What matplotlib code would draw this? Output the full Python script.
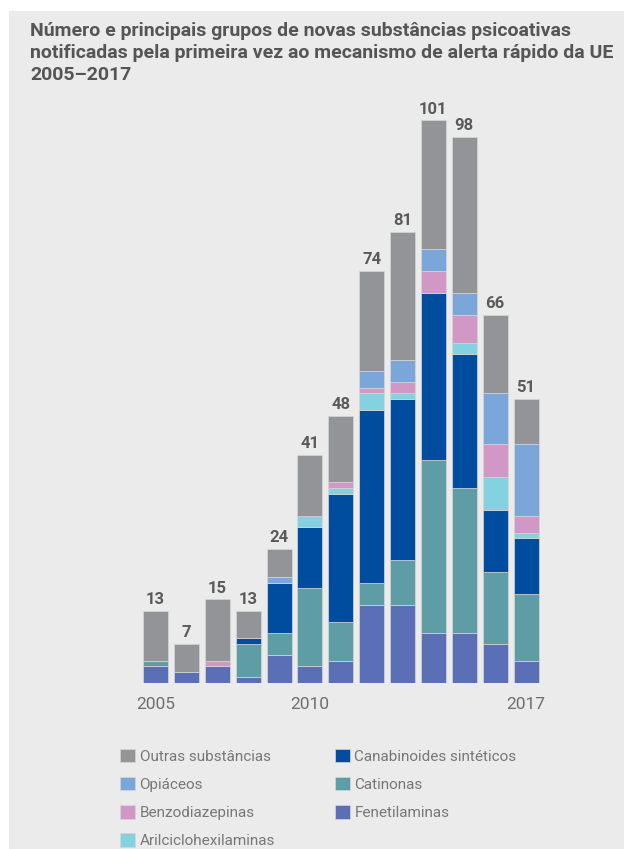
import numpy as np
import matplotlib.pyplot as plt
from matplotlib.patches import Rectangle

# data
years = list(range(2005, 2018))
fenetilaminas = [3, 2, 3, 1, 5, 3, 4, 14, 14, 9, 9, 7, 4]
catinonas     = [1, 0, 0, 6, 4, 14, 7, 4, 8, 31, 26, 13, 12]
canabinoides  = [0, 0, 0, 1, 9, 11, 23, 31, 29, 30, 24, 11, 10]
arilciclo     = [0, 0, 0, 0, 0, 2, 1, 3, 1, 0, 2, 6, 1]
benzo         = [0, 0, 1, 0, 0, 0, 1, 1, 2, 4, 5, 6, 3]
opiaceos      = [0, 0, 0, 0, 1, 0, 0, 3, 4, 4, 4, 9, 13]
outras        = [9, 5, 11, 5, 5, 11, 12, 18, 23, 23, 28, 14, 8]
tick_years = [2005, 2010, 2017]

series = [
    ("Fenetilaminas", fenetilaminas, "#5B6FB6"),
    ("Catinonas", catinonas, "#5F9DA6"),
    ("Canabinoides sintéticos", canabinoides, "#004C9F"),
    ("Arilciclohexilaminas", arilciclo, "#84D2DF"),
    ("Benzodiazepinas", benzo, "#D298C5"),
    ("Opiáceos", opiaceos, "#7AA6DA"),
    ("Outras substâncias", outras, "#939497"),
]

plt.rcParams['font.family'] = ['Roboto', 'DejaVu Sans']
BG = "#EBEBEB"

fig = plt.figure(figsize=(6.24, 8.49), dpi=100)
fig.patch.set_facecolor("white")
# grey panel with a white strip at top and left
fig.patches.append(Rectangle((9/624, 0), 1, 1 - 11/849, transform=fig.transFigure,
                             facecolor=BG, edgecolor="none", zorder=-5))

ax = fig.add_axes([0.2146, 0.1955, 0.663, 0.7217])
ax.set_facecolor("none")
ax.set_zorder(2)

x = np.arange(len(years))
bottom = np.zeros(len(years))
handles = {}
for name, vals, col in series:
    vals = np.array(vals, dtype=float)
    b = ax.bar(x, vals, 0.81, bottom=bottom, color=col, edgecolor="#d6d6d6",
               linewidth=0.5, label=name)
    handles[name] = b
    bottom += vals

for xi, tot in zip(x, bottom):
    ax.text(xi, tot + 0.7, f"{int(tot)}", ha="center", va="bottom",
            fontsize=12, fontweight="bold", color="#5a5a5a")

ax.set_xlim(-0.7, 12.7)
ax.set_ylim(0, 110)
ax.set_xticks([years.index(y) for y in tick_years])
ax.set_xticklabels([str(y) for y in tick_years], fontsize=12.5, color="#6e6e6e")
ax.tick_params(length=0, pad=10)
ax.set_yticks([])
for s in ax.spines.values():
    s.set_visible(False)

fig.text(30/624, 1 - 22/849,
         "Número e principais grupos de novas substâncias psicoativas\n"
         "notificadas pela primeira vez ao mecanismo de alerta rápido da UE\n"
         "2005–2017",
         ha="left", va="top", fontsize=14, fontweight="bold", color="#555555",
         linespacing=1.3)

order = ["Outras substâncias", "Opiáceos", "Benzodiazepinas", "Arilciclohexilaminas",
         "Canabinoides sintéticos", "Catinonas", "Fenetilaminas"]
leg = fig.legend([handles[n] for n in order], order, ncol=2,
                 loc="upper left", bbox_to_anchor=(106/624, 1 - 735/849),
                 frameon=False, fontsize=11, handlelength=1.0, handleheight=1.0,
                 handletextpad=0.3, columnspacing=3.9, labelspacing=0.85)
for t in leg.get_texts():
    t.set_color("#777777")

fig.savefig("out.png", dpi=100, facecolor=fig.get_facecolor())
